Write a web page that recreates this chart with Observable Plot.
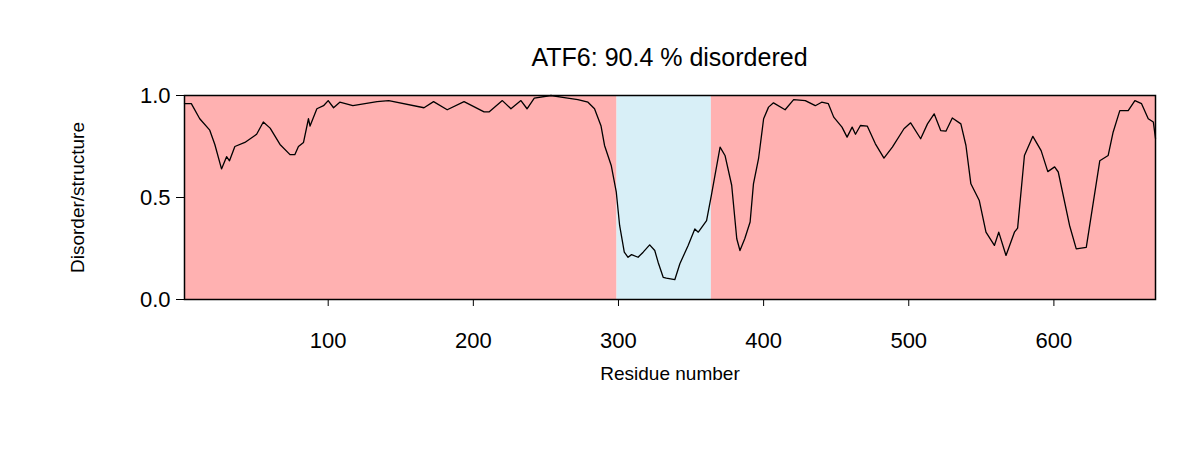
<!DOCTYPE html>
<html>
<head>
<meta charset="utf-8">
<script src="https://cdn.jsdelivr.net/npm/d3@7"></script>
<script src="https://cdn.jsdelivr.net/npm/@observablehq/plot@0.6"></script>
<style>
  body { margin: 0; background: white; font-family: Arial, "Liberation Sans", sans-serif; }
  #title { position: absolute; left: 184px; width: 971px; top: 43px; text-align: center; font-size: 25px; }
  #plot { position: absolute; left: 0; top: 70px; }
</style>
</head>
<body>
<div id="title">ATF6: 90.4 % disordered</div>
<div id="plot"></div>
<script>
const residue = [1, 5.7, 11.5, 18.4, 21.9, 26.5, 30, 32, 35.7, 42.6, 50.7, 55.3, 60, 66.8, 73.7, 77, 79.5, 83, 86.4, 87.5, 92.2, 96.8, 100, 103.7, 108, 117, 133.7, 141.7, 166, 172.6, 182, 193.6, 207.4, 211, 220, 225.9, 232.8, 237, 242, 253.5, 262.7, 272, 279, 283.5, 288, 290.4, 295, 298.5, 300.8, 304, 306.6, 309, 313.5, 317, 321.5, 325, 327.3, 330.8, 333, 338.8, 342.3, 348, 352.6, 355, 360.7, 364, 370, 373.4, 378, 381.5, 383.7, 387, 390.7, 393, 396.5, 400, 403.4, 406.8, 414.8, 420.7, 428.7, 435.6, 440, 444.6, 448.3, 454, 457.5, 461, 463.3, 466.7, 471.4, 477, 482.9, 488.7, 496.7, 501.3, 508.2, 512.9, 517.5, 522, 525.6, 530, 535.9, 539.4, 542.8, 548.6, 553.2, 559, 562, 567, 572.8, 575, 579.7, 585.5, 591.2, 595.8, 600.5, 603, 610.8, 615.4, 622.3, 631.6, 637.4, 640.8, 645.4, 651.2, 655.8, 660.4, 665, 668.5, 670];
const score = [0.96, 0.96, 0.886, 0.83, 0.76, 0.64, 0.70, 0.68, 0.75, 0.77, 0.81, 0.87, 0.84, 0.76, 0.71, 0.71, 0.75, 0.77, 0.886, 0.85, 0.935, 0.95, 0.975, 0.94, 0.967, 0.95, 0.97, 0.975, 0.94, 0.97, 0.93, 0.97, 0.92, 0.92, 0.975, 0.935, 0.975, 0.935, 0.987, 1.0, 0.99, 0.98, 0.967, 0.935, 0.85, 0.755, 0.657, 0.526, 0.363, 0.232, 0.207, 0.22, 0.207, 0.232, 0.268, 0.24, 0.183, 0.109, 0.105, 0.097, 0.175, 0.265, 0.346, 0.33, 0.387, 0.51, 0.747, 0.706, 0.56, 0.298, 0.24, 0.298, 0.38, 0.567, 0.69, 0.886, 0.943, 0.964, 0.93, 0.98, 0.975, 0.95, 0.967, 0.96, 0.894, 0.845, 0.796, 0.845, 0.81, 0.853, 0.85, 0.763, 0.693, 0.747, 0.837, 0.866, 0.788, 0.861, 0.91, 0.828, 0.825, 0.89, 0.861, 0.755, 0.567, 0.485, 0.33, 0.265, 0.33, 0.216, 0.33, 0.35, 0.706, 0.80, 0.73, 0.627, 0.65, 0.625, 0.363, 0.248, 0.256, 0.68, 0.706, 0.82, 0.926, 0.926, 0.975, 0.96, 0.886, 0.87, 0.79];

const regionStart = [1, 299, 364];
const regionEnd = [299, 364, 670];
const regionType = ["disordered", "ordered", "disordered"];

const points = residue.map((r, i) => ({ r, v: score[i] }));
const regions = regionStart.map((s, i) => ({ s, e: regionEnd[i], type: regionType[i] }));

const chart = Plot.plot({
  width: 1200,
  height: 380,
  marginLeft: 184,
  marginRight: 45,
  marginTop: 25,
  marginBottom: 151,
  style: { fontFamily: "Arial, 'Liberation Sans', sans-serif", fontSize: "22px", background: "white" },
  x: { domain: [1, 670], label: null },
  y: { domain: [0, 1], label: null },
  color: { domain: ["disordered", "ordered"], range: ["#ffb1b1", "#d8eff7"] },
  marks: [
    Plot.rect(regions, { x1: "s", x2: "e", y1: 0, y2: 1, fill: "type" }),
    Plot.line(points, { x: "r", y: "v", stroke: "black", strokeWidth: 1.3 }),
    Plot.frame({ stroke: "black", strokeWidth: 1.5 }),
    Plot.axisX({ ticks: [100, 200, 300, 400, 500, 600], tickSize: 7, tickPadding: 26, label: null, fontSize: 22 }),
    Plot.axisY({ ticks: [0, 0.5, 1], tickFormat: d3.format(".1f"), tickSize: 8, tickPadding: 6, label: null, fontSize: 22 }),
    Plot.text(["Residue number"], { frameAnchor: "bottom", dy: 80, fontSize: 19, fill: "black" }),
    Plot.text(["Disorder/structure"], { frameAnchor: "left", textAnchor: "middle", dx: -107, rotate: -90, fontSize: 19, fill: "black" })
  ]
});
document.getElementById("plot").appendChild(chart);
</script>
</body>
</html>
